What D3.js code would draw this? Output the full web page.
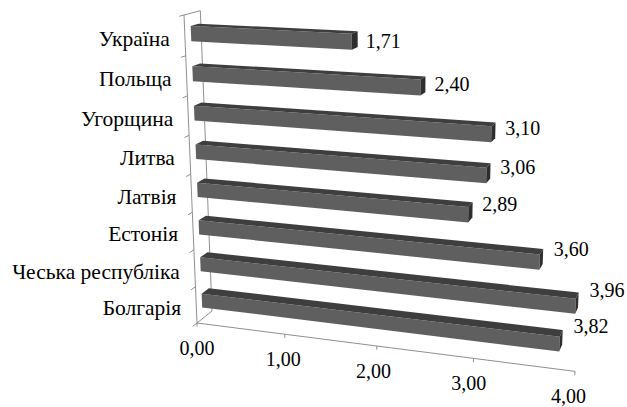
<!DOCTYPE html>
<html>
<head>
<meta charset="utf-8">
<script src="https://cdn.jsdelivr.net/npm/d3@7"></script>
<style>body{margin:0;background:#fff}</style>
</head>
<body>
<svg id="chart" width="627" height="407"></svg>
<script>
// Countries, top to bottom
const categories = ["Україна", "Польща", "Угорщина", "Литва", "Латвія", "Естонія", "Чеська республіка", "Болгарія"];
// Index value per country
const values = [1.71, 2.40, 3.10, 3.06, 2.89, 3.60, 3.96, 3.82];
// Value axis
const tickValues = [0, 1, 2, 3, 4];
const tickLabels = ["0,00", "1,00", "2,00", "3,00", "4,00"];

const fmt = v => v.toFixed(2).replace(".", ",");

// Perspective camera: homogeneous 3x4 matrix taking world
// (X = value, Y = category rows from the floor up, Z = depth from the front) to the screen.
const camU = [81.17, -3.097, 20.63, 197];
const camV = [3.479, -38.62, -3.744, 323];
const camW = [-0.02319, -0.008, 0.02655, 1];
function project(X, Y, Z) {
  const w = camW[0] * X + camW[1] * Y + camW[2] * Z + camW[3];
  return [
    (camU[0] * X + camU[1] * Y + camU[2] * Z + camU[3]) / w,
    (camV[0] * X + camV[1] * Y + camV[2] * Z + camV[3]) / w
  ];
}

// World-space scales
const x = d3.scaleLinear().domain([0, 4]).range([0, 4]);
const y = d3.scaleBand().domain(categories).range([8, 0]).paddingInner(0.62).paddingOuter(0.31);
const Ytop = 8;
const zWallFront = 0, zWallBack = 1;
const zBarFront = 0.37, zBarBack = 0.85;

const svg = d3.select("#chart");
const poly = pts => "M" + pts.map(p => project(...p).map(d => d.toFixed(2)).join(",")).join("L") + "Z";
const seg = (a, b) => "M" + project(...a).join(",") + "L" + project(...b).join(",");

// Walls: outline edges of the box
const axisColor = "#8f8f8f";
const frame = svg.append("g").attr("fill", "none").attr("stroke", axisColor).attr("stroke-width", 1);
frame.append("path").attr("d", seg([0, 0, zWallBack], [0, Ytop, zWallBack]));   // back-left vertical
frame.append("path").attr("d", seg([0, Ytop, zWallFront], [0, Ytop, zWallBack])); // top depth edge
frame.append("path").attr("d", seg([0, 0, zWallFront], [0, 0, zWallBack]));     // floor depth edge

// Category axis (front left vertical) with ticks at band boundaries
frame.append("path").attr("d", seg([0, 0, zWallFront], [0, Ytop, zWallFront]));
d3.range(0, categories.length + 1).forEach(i => {
  frame.append("path").attr("d", seg([0, i, zWallFront], [0, i, -0.28]));
});

// Value axis along the front floor edge
frame.append("path").attr("d", seg([x(0), 0, zWallFront], [x(4), 0, zWallFront]));
tickValues.forEach(t => {
  frame.append("path").attr("d", seg([x(t), 0, zWallFront], [x(t), -0.1, zWallFront]));
});

// Bars: front face, top face and right end cap
const rows = categories.map((c, i) => ({ c, v: values[i] }));
const bars = svg.append("g");
rows.forEach(d => {
  const X0 = x(0), X1 = x(d.v);
  const Y0 = y(d.c), Y1 = Y0 + y.bandwidth();
  const zf = zBarFront, zb = zBarBack;
  const g = bars.append("g");
  g.append("path").attr("fill", "#5f5f5f")
    .attr("d", poly([[X0, Y0, zf], [X1, Y0, zf], [X1, Y1, zf], [X0, Y1, zf]]));
  g.append("path").attr("fill", "#3e3e3e")
    .attr("d", poly([[X0, Y1, zf], [X1, Y1, zf], [X1, Y1, zb], [X0, Y1, zb]]));
  g.append("path").attr("fill", "#2e2e2e")
    .attr("d", poly([[X1, Y0, zf], [X1, Y0, zb], [X1, Y1, zb], [X1, Y1, zf]]));
});

// Text: serif face, vertically centred with a fixed em shift
const label = size => sel => sel
  .attr("font-size", size)
  .attr("dy", "0.34em")
  .style("font-family", '"Liberation Serif"');

// Value tick labels
svg.append("g").selectAll("text").data(tickValues).join("text")
  .attr("x", (t, i) => project(x(t), 0, zWallFront)[0] - 1.6 * i)
  .attr("y", t => project(x(t), 0, zWallFront)[1] + 25)
  .attr("text-anchor", "middle")
  .call(label(20))
  .text((t, i) => tickLabels[i]);

// Category labels
svg.append("g").selectAll("text").data(categories).join("text")
  .attr("x", c => project(0, y(c) + y.bandwidth() / 2, zWallFront)[0] - 15)
  .attr("y", c => project(0, y(c) + y.bandwidth() / 2, zWallFront)[1] + 3)
  .attr("text-anchor", "end")
  .call(label(21.5))
  .text(c => c);

// Value labels beside the bar ends
svg.append("g").selectAll("text").data(rows).join("text")
  .attr("x", d => project(x(d.v), y(d.c) + y.bandwidth() / 2, zBarFront)[0] + 14)
  .attr("y", d => {
    const v = project(x(d.v), y(d.c) + y.bandwidth() / 2, zBarFront)[1];
    return v - (v - 35) * 0.058;
  })
  .attr("text-anchor", "start")
  .call(label(20))
  .text(d => fmt(d.v));
</script>
</body>
</html>
